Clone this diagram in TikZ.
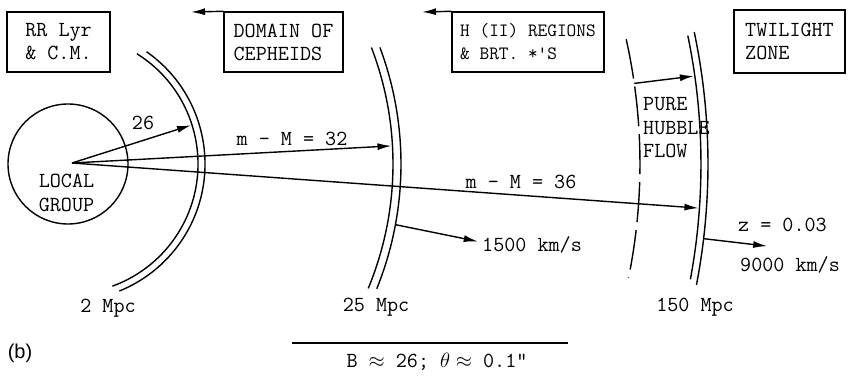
\documentclass[tikz,border=0pt]{standalone}
\usepackage{fontspec}
\usepackage{tikz}
\usetikzlibrary{arrows.meta,calc}
\newfontfamily\lab{Liberation Sans}

\begin{document}
\begin{tikzpicture}[
	x=1pt, y=1pt,
	box/.style={
		draw,
		line width=1.4pt,
		align=left,
		minimum height=60,
		inner sep=0pt,
		font=\ttfamily\fontsize{21.5}{23}\selectfont
	},
	txt/.style={
		inner sep=0pt,
		align=left,
		font=\ttfamily\fontsize{21.5}{23.5}\selectfont
	},
	ring/.style={
		line width=1.4pt
	},
	arrow/.style={
		-{Latex[length=14pt,width=7pt]},
		line width=1.4pt
	}
	]
	\useasboundingbox (0,0) rectangle (859,375);
	
	% centre of the shells
	\coordinate (C) at (68,211);
	\coordinate (O) at (72,212);
	
	% boxes on top
	\node[box, minimum width=103] (rrlyr) at (58.5,333)
	{RR Lyr\\\& C.M.};
	
	\node[box, minimum width=119] (cepheids) at (283.5,333)
	{DOMAIN OF\\CEPHEIDS};
	
	\node[box, minimum width=152, font=\ttfamily\fontsize{18.8}{23}\selectfont] (hii) at (528,333)
	{H (II) REGIONS\\\& BRT. *'S};
	
	\node[box, minimum width=111, minimum height=63] (twilight) at (789.5,333.5)
	{TWILIGHT\\ZONE};
	
	\coordinate (cephtip) at (191,363);
	\coordinate (hiitip) at (422,363);
	\draw[arrow] (cepheids.north west) -- (cephtip);
	\draw[arrow] (hii.north west) -- (hiitip);
	
	% local group
	\node[draw, circle, line width=1.4pt, minimum size=120, inner sep=0pt] (localgroup) at (C) {};
	\node[txt, align=center] (lgname) at (66.5,182) {LOCAL\\GROUP};
	
	% shells
	\draw[ring] ($(C)+(58:130)$) arc[start angle=58, end angle=-70, radius=130];
	\draw[ring] ($(C)+(55:137)$) arc[start angle=55, end angle=-68, radius=137];
	
	\draw[ring] ($(C)+(21:325)$) arc[start angle=21, end angle=-22.5, radius=325];
	\draw[ring] ($(C)+(20.5:333)$) arc[start angle=20.5, end angle=-22, radius=333];
	
	\draw[ring, dash pattern=on 40pt off 8pt] ($(C)+(12.6:572)$) arc[start angle=12.6, end angle=-11.5, radius=572];
	
	\draw[ring] ($(C)+(11.7:633)$) arc[start angle=11.7, end angle=-10.5, radius=633];
	\draw[ring] ($(C)+(11.9:640)$) arc[start angle=11.9, end angle=-10.9, radius=640];
	
	% points on the shells
	\coordinate (s26) at ($(C)+(17.5:129)$);
	\coordinate (s32) at ($(C)+(3.2:324)$);
	\coordinate (s36) at ($(C)+(-4:632)$);
	\coordinate (flowa) at ($(C)+(8.1:572)$);
	\coordinate (flowb) at ($(C)+(8:632)$);
	\coordinate (va) at ($(C)+(-10.5:333)$);
	\coordinate (vb) at ($(C)+(-10.7:417)$);
	\coordinate (za) at ($(C)+(-6.7:640)$);
	\coordinate (zb) at ($(C)+(-6.7:704)$);
	
	% arrows
	\draw[arrow] (O) -- (s26);
	\draw[arrow] (O) -- (s32);
	\draw[arrow] (O) -- (s36);
	\draw[arrow] (flowa) -- (flowb);
	\draw[arrow] (va) -- (vb);
	\draw[arrow] (za) -- (zb);
	
	% labels
	\node[txt] (l26) at (143,252) {26};
	\node[txt] (l32) at (292,236) {m - M = 32};
	\node[txt] (l36) at (521,193) {m - M = 36};
	\node[txt, anchor=west] (flow) at (643,247) {PURE\\HUBBLE\\FLOW};
	\node[txt, anchor=west] (v1500) at (482,130) {1500 km/s};
	\node[txt, anchor=west] (zval) at (738,150) {z = 0.03};
	\node[txt, anchor=west] (v9000) at (740,110) {9000 km/s};
	
	\node[txt] (d2) at (108,67) {2 Mpc};
	\node[txt] (d25) at (376,68) {25 Mpc};
	\node[txt] (d150) at (695,68) {150 Mpc};
	
	\node[inner sep=0pt, font=\lab\fontsize{20}{22}\selectfont] (panel) at (20,22) {(b)};
	
	% beam line
	\coordinate (rulel) at (292,32);
	\coordinate (ruler) at (568,32);
	\draw[line width=1.4pt] (rulel) -- (ruler);
	\node[txt] (beam) at (437,13) {B $\approx$ 26; $\theta\approx$ 0.1"};
	
\end{tikzpicture}
\end{document}
